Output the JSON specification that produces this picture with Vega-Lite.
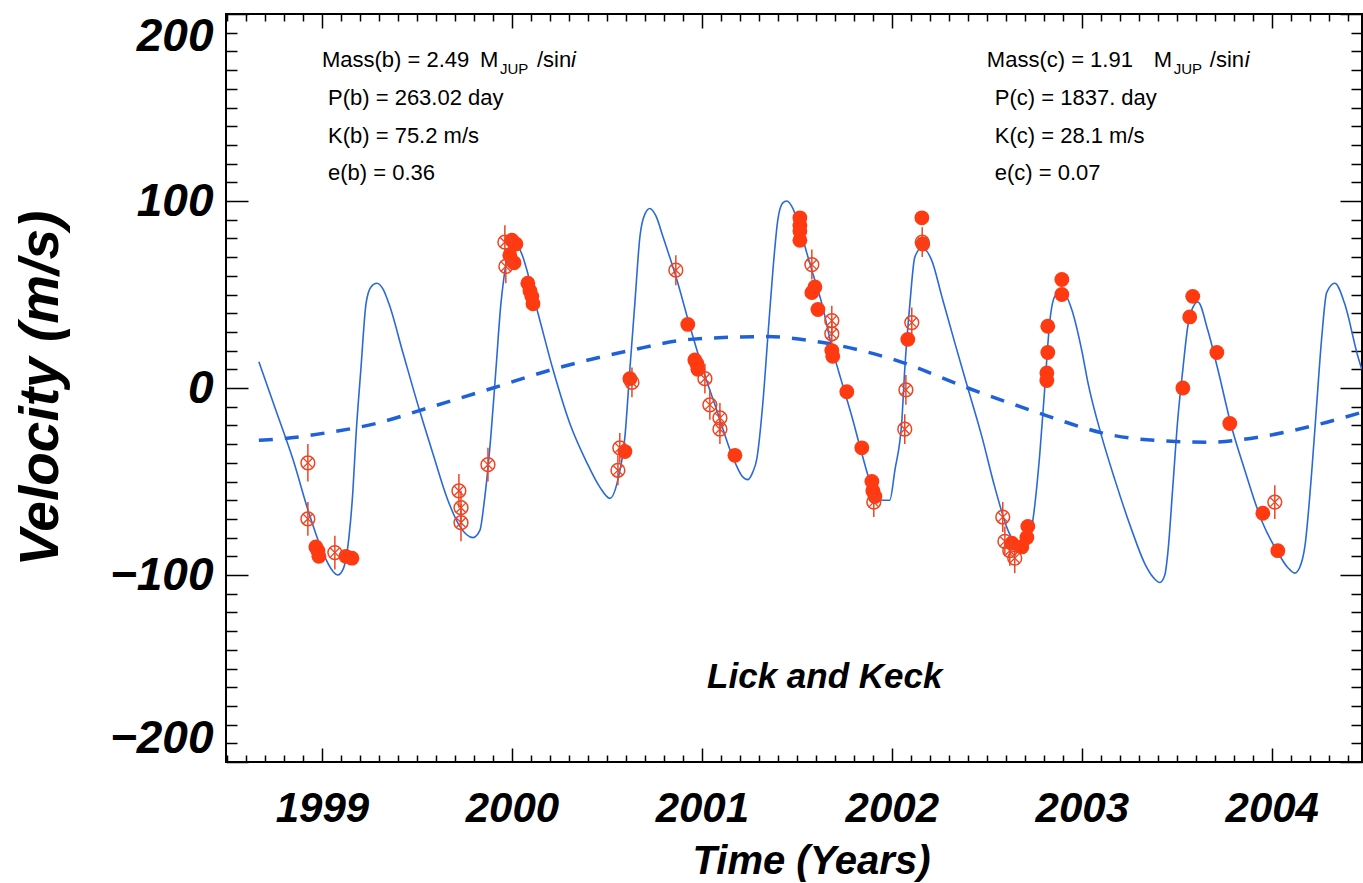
{
  "$schema": "https://vega.github.io/schema/vega-lite/v6.json",
  "width": 1136,
  "height": 748,
  "autosize": {"type": "none"},
  "padding": {"left": 226, "top": 14, "right": 1, "bottom": 121},
  "background": "white",
  "config": {"view": {"stroke": "black", "strokeWidth": 2}, "font": "Liberation Sans"},
  "datasets": {
    "fit": [
      {"t":1998.668,"v":14},{"t":1998.758,"v":-12},{"t":1998.847,"v":-38},{"t":1998.932,"v":-67},{"t":1999.005,"v":-88},{"t":1999.058,"v":-98},{"t":1999.084,"v":-100},{"t":1999.111,"v":-97},{"t":1999.142,"v":-80},{"t":1999.163,"v":-55},{"t":1999.179,"v":-26},{"t":1999.205,"v":10},{"t":1999.232,"v":45},{"t":1999.258,"v":54},{"t":1999.289,"v":56},{"t":1999.321,"v":53},{"t":1999.353,"v":45},{"t":1999.426,"v":19},{"t":1999.511,"v":-11},{"t":1999.584,"v":-35},{"t":1999.663,"v":-60},{"t":1999.726,"v":-74},{"t":1999.795,"v":-80},{"t":1999.832,"v":-76},{"t":1999.853,"v":-62},{"t":1999.889,"v":-26},{"t":1999.916,"v":10},{"t":1999.942,"v":45},{"t":1999.958,"v":59},{"t":1999.979,"v":72},{"t":2000.005,"v":78},{"t":2000.042,"v":74},{"t":2000.132,"v":42},{"t":2000.216,"v":10},{"t":2000.305,"v":-19},{"t":2000.395,"v":-40},{"t":2000.463,"v":-53},{"t":2000.516,"v":-59},{"t":2000.558,"v":-49},{"t":2000.595,"v":-26},{"t":2000.621,"v":10},{"t":2000.647,"v":45},{"t":2000.674,"v":81},{"t":2000.7,"v":93},{"t":2000.726,"v":96},{"t":2000.758,"v":92},{"t":2000.795,"v":81},{"t":2000.868,"v":58},{"t":2000.937,"v":33},{"t":2001.005,"v":10},{"t":2001.079,"v":-12},{"t":2001.163,"v":-37},{"t":2001.211,"v":-47},{"t":2001.242,"v":-49},{"t":2001.268,"v":-45},{"t":2001.289,"v":-38},{"t":2001.321,"v":-8},{"t":2001.347,"v":27},{"t":2001.374,"v":63},{"t":2001.4,"v":90},{"t":2001.426,"v":99},{"t":2001.447,"v":100},{"t":2001.479,"v":96},{"t":2001.516,"v":85},{"t":2001.553,"v":72},{"t":2001.579,"v":63},{"t":2001.632,"v":45},{"t":2001.684,"v":22},{"t":2001.737,"v":3},{"t":2001.789,"v":-15},{"t":2001.842,"v":-35},{"t":2001.895,"v":-53},{"t":2001.947,"v":-60},{"t":2001.989,"v":-60},{"t":2002.016,"v":-44},{"t":2002.053,"v":-17},{"t":2002.068,"v":10},{"t":2002.095,"v":45},{"t":2002.121,"v":70},{"t":2002.158,"v":75},{"t":2002.211,"v":68},{"t":2002.263,"v":49},{"t":2002.332,"v":24},{"t":2002.4,"v":0},{"t":2002.474,"v":-26},{"t":2002.542,"v":-53},{"t":2002.611,"v":-76},{"t":2002.663,"v":-85},{"t":2002.7,"v":-87},{"t":2002.726,"v":-80},{"t":2002.742,"v":-71},{"t":2002.779,"v":-35},{"t":2002.805,"v":0},{"t":2002.832,"v":36},{"t":2002.858,"v":49},{"t":2002.895,"v":52},{"t":2002.947,"v":42},{"t":2003.0,"v":20},{"t":2003.032,"v":3},{"t":2003.105,"v":-26},{"t":2003.174,"v":-49},{"t":2003.263,"v":-76},{"t":2003.332,"v":-94},{"t":2003.374,"v":-101},{"t":2003.411,"v":-104},{"t":2003.437,"v":-100},{"t":2003.453,"v":-88},{"t":2003.479,"v":-53},{"t":2003.505,"v":-17},{"t":2003.532,"v":10},{"t":2003.558,"v":33},{"t":2003.584,"v":43},{"t":2003.611,"v":46},{"t":2003.663,"v":31},{"t":2003.716,"v":10},{"t":2003.789,"v":-21},{"t":2003.858,"v":-44},{"t":2003.947,"v":-71},{"t":2004.032,"v":-88},{"t":2004.084,"v":-96},{"t":2004.121,"v":-99},{"t":2004.147,"v":-96},{"t":2004.174,"v":-85},{"t":2004.211,"v":-44},{"t":2004.237,"v":-8},{"t":2004.263,"v":27},{"t":2004.289,"v":51},{"t":2004.332,"v":56},{"t":2004.384,"v":45},{"t":2004.453,"v":17},{"t":2004.474,"v":10}
    ],
    "outer": [
      {"t":1998.668,"v":-28},{"t":1998.85,"v":-26.5},{"t":1999.021,"v":-24},{"t":1999.284,"v":-19},{"t":1999.547,"v":-11},{"t":1999.9,"v":0},{"t":2000.216,"v":10},{"t":2000.621,"v":20},{"t":2000.937,"v":26},{"t":2001.342,"v":27.5},{"t":2001.595,"v":25},{"t":2002.016,"v":15},{"t":2002.4,"v":0},{"t":2002.821,"v":-15},{"t":2003.0,"v":-21},{"t":2003.105,"v":-24},{"t":2003.384,"v":-28},{"t":2003.663,"v":-29},{"t":2003.947,"v":-26},{"t":2004.226,"v":-20},{"t":2004.474,"v":-13}
    ],
    "lick": [
      {"t":1998.926,"v":-40,"lo":-50,"hi":-30},{"t":1998.926,"v":-70,"lo":-79,"hi":-61},{"t":1999.068,"v":-88,"lo":-97,"hi":-79},
      {"t":1999.721,"v":-55,"lo":-64,"hi":-46},{"t":1999.732,"v":-64,"lo":-73,"hi":-55},{"t":1999.732,"v":-72,"lo":-82,"hi":-62},{"t":1999.874,"v":-41,"lo":-50,"hi":-32},
      {"t":1999.963,"v":78,"lo":69,"hi":87},{"t":1999.968,"v":65,"lo":56,"hi":74},
      {"t":2000.558,"v":-44,"lo":-52,"hi":-36},{"t":2000.568,"v":-32,"lo":-40,"hi":-24},{"t":2000.632,"v":3,"lo":-5,"hi":11},
      {"t":2000.863,"v":63,"lo":55,"hi":71},
      {"t":2001.016,"v":5,"lo":-3,"hi":13},{"t":2001.042,"v":-9,"lo":-17,"hi":-1},{"t":2001.095,"v":-16,"lo":-24,"hi":-8},{"t":2001.095,"v":-22,"lo":-30,"hi":-14},
      {"t":2001.579,"v":66,"lo":58,"hi":74},{"t":2001.684,"v":36,"lo":28,"hi":44},{"t":2001.684,"v":29,"lo":21,"hi":37},{"t":2001.905,"v":-61,"lo":-69,"hi":-53},
      {"t":2002.068,"v":-22,"lo":-30,"hi":-14},{"t":2002.074,"v":-1,"lo":-9,"hi":7},{"t":2002.105,"v":35,"lo":27,"hi":43},{"t":2002.16,"v":78,"lo":70,"hi":86},
      {"t":2002.584,"v":-69,"lo":-77,"hi":-61},{"t":2002.595,"v":-82,"lo":-90,"hi":-74},{"t":2002.621,"v":-87,"lo":-95,"hi":-79},{"t":2002.647,"v":-91,"lo":-99,"hi":-83},
      {"t":2004.016,"v":-61,"lo":-70,"hi":-52}
    ],
    "keck": [
      {"t":1998.968,"v":-85},{"t":1998.979,"v":-87},{"t":1998.984,"v":-90},{"t":1999.126,"v":-90},{"t":1999.158,"v":-91},
      {"t":2000.0,"v":79},{"t":2000.021,"v":77},{"t":1999.989,"v":71},{"t":2000.011,"v":67},{"t":2000.084,"v":56},{"t":2000.095,"v":52},{"t":2000.105,"v":49},{"t":2000.111,"v":45},
      {"t":2000.595,"v":-34},{"t":2000.621,"v":5},
      {"t":2000.926,"v":34},{"t":2000.963,"v":15},{"t":2000.974,"v":13},{"t":2000.979,"v":10},{"t":2001.174,"v":-36},
      {"t":2001.516,"v":91},{"t":2001.516,"v":87},{"t":2001.516,"v":84},{"t":2001.516,"v":79},
      {"t":2001.595,"v":54},{"t":2001.579,"v":51},{"t":2001.611,"v":42},{"t":2001.684,"v":20},{"t":2001.689,"v":17},{"t":2001.763,"v":-2},{"t":2001.842,"v":-32},{"t":2001.895,"v":-50},{"t":2001.9,"v":-55},{"t":2001.911,"v":-58},
      {"t":2002.084,"v":26},{"t":2002.158,"v":91},{"t":2002.163,"v":77},
      {"t":2002.632,"v":-83},{"t":2002.684,"v":-85},{"t":2002.711,"v":-80},{"t":2002.716,"v":-74},
      {"t":2002.821,"v":33},{"t":2002.821,"v":19},{"t":2002.816,"v":8},{"t":2002.816,"v":4},{"t":2002.895,"v":58},{"t":2002.895,"v":50},
      {"t":2003.532,"v":0},{"t":2003.568,"v":38},{"t":2003.584,"v":49},{"t":2003.711,"v":19},{"t":2003.779,"v":-19},{"t":2003.953,"v":-67},{"t":2004.032,"v":-87}
    ],
    "notes": [
      {"t":1999.0,"v":175.4,"txt":"Mass(b) = 2.49","part":"main"},
      {"t":1999.832,"v":175.4,"txt":"M","part":"main"},
      {"t":1999.937,"v":170.6,"txt":"JUP","part":"sub"},
      {"t":2000.132,"v":175.4,"txt":"/sin","part":"main"},
      {"t":2000.311,"v":175.4,"txt":"i","part":"ital"},
      {"t":1999.032,"v":155.1,"txt":"P(b) = 263.02 day","part":"main"},
      {"t":1999.032,"v":134.8,"txt":"K(b) = 75.2 m/s","part":"main"},
      {"t":1999.032,"v":115.0,"txt":"e(b) = 0.36","part":"main"},
      {"t":2002.5,"v":175.4,"txt":"Mass(c) = 1.91","part":"main"},
      {"t":2003.379,"v":175.4,"txt":"M","part":"main"},
      {"t":2003.484,"v":170.6,"txt":"JUP","part":"sub"},
      {"t":2003.674,"v":175.4,"txt":"/sin","part":"main"},
      {"t":2003.858,"v":175.4,"txt":"i","part":"ital"},
      {"t":2002.542,"v":155.1,"txt":"P(c) = 1837. day","part":"main"},
      {"t":2002.542,"v":134.8,"txt":"K(c) = 28.1  m/s","part":"main"},
      {"t":2002.542,"v":115.0,"txt":"e(c) = 0.07","part":"main"},
      {"t":2001.647,"v":-154.5,"txt":"Lick and Keck","part":"title"}
    ]
  },
  "layer": [
    {
      "data": {"name": "fit"},
      "mark": {"type": "line", "color": "#2b6ad6", "strokeWidth": 1.6, "interpolate": "monotone", "clip": true},
      "encoding": {
        "x": {
          "field": "t", "type": "quantitative",
          "scale": {"domain": [1998.495, 2004.475], "nice": false, "zero": false},
          "axis": {
            "orient": "bottom",
            "values": [1999, 2000, 2001, 2002, 2003, 2004],
            "format": "d", "ticks": false, "domain": false, "grid": false,
            "labelFont": "Liberation Sans", "labelFontSize": 42, "labelFontStyle": "italic", "labelFontWeight": "bold", "labelColor": "black",
            "labelPadding": 26, "labelOverlap": false, "labelFlush": false, "labelBound": false,
            "title": "Time (Years)",
            "titleFont": "Liberation Sans", "titleFontSize": 40, "titleFontStyle": "italic", "titleFontWeight": "bold", "titleColor": "black",
            "titlePadding": 12, "titleX": 585
          }
        },
        "y": {
          "field": "v", "type": "quantitative",
          "scale": {"domain": [-200, 200], "nice": false, "zero": false},
          "axis": {
            "orient": "left",
            "values": [-200, -100, 0, 100, 200],
            "format": "d", "ticks": false, "domain": false, "grid": false,
            "labelFont": "Liberation Sans", "labelFontSize": 46, "labelFontStyle": "italic", "labelFontWeight": "bold", "labelColor": "black",
            "labelPadding": 13, "labelOverlap": false, "labelFlush": true, "labelFlushOffset": 0, "labelBound": false,
            "title": "Velocity  (m/s)",
            "titleFont": "Liberation Sans", "titleFontSize": 55, "titleFontStyle": "italic", "titleFontWeight": "bold", "titleColor": "black",
            "titlePadding": 40
          }
        }
      }
    },
    {
      "data": {"name": "outer"},
      "mark": {"type": "line", "color": "#1f62d8", "strokeWidth": 3.5, "strokeDash": [14, 12], "interpolate": "monotone", "clip": true},
      "encoding": {
        "x": {
          "field": "t", "type": "quantitative",
          "scale": {"domain": [1998.495, 2004.475], "nice": false, "zero": false},
          "axis": {
            "orient": "top", "offset": -748, "values": [1999, 2000, 2001, 2002, 2003, 2004],
            "labels": false, "title": null, "grid": false, "domain": false,
            "tickColor": "black", "tickWidth": 1.5, "tickSize": 14
          }
        },
        "y": {
          "field": "v", "type": "quantitative",
          "scale": {"domain": [-200, 200], "nice": false, "zero": false},
          "axis": {
            "orient": "right", "offset": -1136, "values": [-200, -100, 0, 100, 200],
            "labels": false, "title": null, "grid": false, "domain": false,
            "tickColor": "black", "tickWidth": 1.5, "tickSize": 22
          }
        }
      }
    },
    {
      "data": {"name": "lick"},
      "mark": {"type": "rule", "color": "#ee4422", "strokeWidth": 1.5},
      "encoding": {
        "x": {
          "field": "t", "type": "quantitative",
          "scale": {"domain": [1998.495, 2004.475], "nice": false, "zero": false},
          "axis": {
            "orient": "top", "offset": -748,
            "values": [1998.5,1998.6,1998.7,1998.8,1998.9,1999.1,1999.2,1999.3,1999.4,1999.5,1999.6,1999.7,1999.8,1999.9,2000.1,2000.2,2000.3,2000.4,2000.5,2000.6,2000.7,2000.8,2000.9,2001.1,2001.2,2001.3,2001.4,2001.5,2001.6,2001.7,2001.8,2001.9,2002.1,2002.2,2002.3,2002.4,2002.5,2002.6,2002.7,2002.8,2002.9,2003.1,2003.2,2003.3,2003.4,2003.5,2003.6,2003.7,2003.8,2003.9,2004.1,2004.2,2004.3,2004.4],
            "labels": false, "title": null, "grid": false, "domain": false,
            "tickColor": "black", "tickWidth": 1.5, "tickSize": 7
          }
        },
        "y": {
          "field": "lo", "type": "quantitative",
          "scale": {"domain": [-200, 200], "nice": false, "zero": false},
          "axis": {
            "orient": "right", "offset": -1136,
            "values": [-190,-180,-170,-160,-150,-140,-130,-120,-110,-90,-80,-70,-60,-50,-40,-30,-20,-10,10,20,30,40,50,60,70,80,90,110,120,130,140,150,160,170,180,190],
            "labels": false, "title": null, "grid": false, "domain": false,
            "tickColor": "black", "tickWidth": 1.5, "tickSize": 11
          }
        },
        "y2": {"field": "hi"}
      }
    },
    {
      "data": {"name": "keck"},
      "mark": {"type": "point", "shape": "circle", "filled": true, "color": "#ff3a10", "opacity": 1, "size": 220},
      "encoding": {
        "x": {
          "field": "t", "type": "quantitative",
          "scale": {"domain": [1998.495, 2004.475], "nice": false, "zero": false},
          "axis": {
            "orient": "bottom", "offset": -748, "values": [1999, 2000, 2001, 2002, 2003, 2004],
            "labels": false, "title": null, "grid": false, "domain": false,
            "tickColor": "black", "tickWidth": 1.5, "tickSize": 14
          }
        },
        "y": {
          "field": "v", "type": "quantitative",
          "scale": {"domain": [-200, 200], "nice": false, "zero": false},
          "axis": {
            "orient": "left", "offset": -1136, "values": [-200, -100, 0, 100, 200],
            "labels": false, "title": null, "grid": false, "domain": false,
            "tickColor": "black", "tickWidth": 1.5, "tickSize": 22
          }
        }
      }
    },
    {
      "data": {"name": "lick"},
      "mark": {"type": "point", "shape": "circle", "filled": false, "color": "#ee4422", "strokeWidth": 1.5, "opacity": 1, "size": 190},
      "encoding": {
        "x": {
          "field": "t", "type": "quantitative",
          "scale": {"domain": [1998.495, 2004.475], "nice": false, "zero": false},
          "axis": {
            "orient": "bottom", "offset": -748,
            "values": [1998.5,1998.6,1998.7,1998.8,1998.9,1999.1,1999.2,1999.3,1999.4,1999.5,1999.6,1999.7,1999.8,1999.9,2000.1,2000.2,2000.3,2000.4,2000.5,2000.6,2000.7,2000.8,2000.9,2001.1,2001.2,2001.3,2001.4,2001.5,2001.6,2001.7,2001.8,2001.9,2002.1,2002.2,2002.3,2002.4,2002.5,2002.6,2002.7,2002.8,2002.9,2003.1,2003.2,2003.3,2003.4,2003.5,2003.6,2003.7,2003.8,2003.9,2004.1,2004.2,2004.3,2004.4],
            "labels": false, "title": null, "grid": false, "domain": false,
            "tickColor": "black", "tickWidth": 1.5, "tickSize": 7
          }
        },
        "y": {
          "field": "v", "type": "quantitative",
          "scale": {"domain": [-200, 200], "nice": false, "zero": false},
          "axis": {
            "orient": "left", "offset": -1136,
            "values": [-190,-180,-170,-160,-150,-140,-130,-120,-110,-90,-80,-70,-60,-50,-40,-30,-20,-10,10,20,30,40,50,60,70,80,90,110,120,130,140,150,160,170,180,190],
            "labels": false, "title": null, "grid": false, "domain": false,
            "tickColor": "black", "tickWidth": 1.5, "tickSize": 11
          }
        }
      }
    },
    {
      "data": {"name": "lick"},
      "mark": {"type": "point", "shape": "M-0.7,-0.7L0.7,0.7M-0.7,0.7L0.7,-0.7", "filled": false, "color": "#ee4422", "strokeWidth": 1.3, "opacity": 1, "size": 190},
      "encoding": {
        "x": {"field": "t", "type": "quantitative", "scale": {"domain": [1998.495, 2004.475], "nice": false, "zero": false}, "axis": null},
        "y": {"field": "v", "type": "quantitative", "scale": {"domain": [-200, 200], "nice": false, "zero": false}, "axis": null}
      }
    },
    {
      "data": {"name": "notes"},
      "transform": [{"filter": "datum.part === 'main'"}],
      "mark": {"type": "text", "font": "Liberation Sans", "fontSize": 22, "color": "black", "align": "left", "baseline": "middle"},
      "encoding": {
        "x": {"field": "t", "type": "quantitative", "scale": {"domain": [1998.495, 2004.475], "nice": false, "zero": false}, "axis": null},
        "y": {"field": "v", "type": "quantitative", "scale": {"domain": [-200, 200], "nice": false, "zero": false}, "axis": null},
        "text": {"field": "txt"}
      }
    },
    {
      "data": {"name": "notes"},
      "transform": [{"filter": "datum.part === 'sub'"}],
      "mark": {"type": "text", "font": "Liberation Sans", "fontSize": 15, "color": "black", "align": "left", "baseline": "middle"},
      "encoding": {
        "x": {"field": "t", "type": "quantitative", "scale": {"domain": [1998.495, 2004.475], "nice": false, "zero": false}, "axis": null},
        "y": {"field": "v", "type": "quantitative", "scale": {"domain": [-200, 200], "nice": false, "zero": false}, "axis": null},
        "text": {"field": "txt"}
      }
    },
    {
      "data": {"name": "notes"},
      "transform": [{"filter": "datum.part === 'ital'"}],
      "mark": {"type": "text", "font": "Liberation Sans", "fontSize": 22, "fontStyle": "italic", "color": "black", "align": "left", "baseline": "middle"},
      "encoding": {
        "x": {"field": "t", "type": "quantitative", "scale": {"domain": [1998.495, 2004.475], "nice": false, "zero": false}, "axis": null},
        "y": {"field": "v", "type": "quantitative", "scale": {"domain": [-200, 200], "nice": false, "zero": false}, "axis": null},
        "text": {"field": "txt"}
      }
    },
    {
      "data": {"name": "notes"},
      "transform": [{"filter": "datum.part === 'title'"}],
      "mark": {"type": "text", "font": "Liberation Sans", "fontSize": 35, "fontStyle": "italic", "fontWeight": "bold", "color": "black", "align": "center", "baseline": "middle"},
      "encoding": {
        "x": {"field": "t", "type": "quantitative", "scale": {"domain": [1998.495, 2004.475], "nice": false, "zero": false}, "axis": null},
        "y": {"field": "v", "type": "quantitative", "scale": {"domain": [-200, 200], "nice": false, "zero": false}, "axis": null},
        "text": {"field": "txt"}
      }
    }
  ],
  "resolve": {"axis": {"x": "independent", "y": "independent"}}
}
